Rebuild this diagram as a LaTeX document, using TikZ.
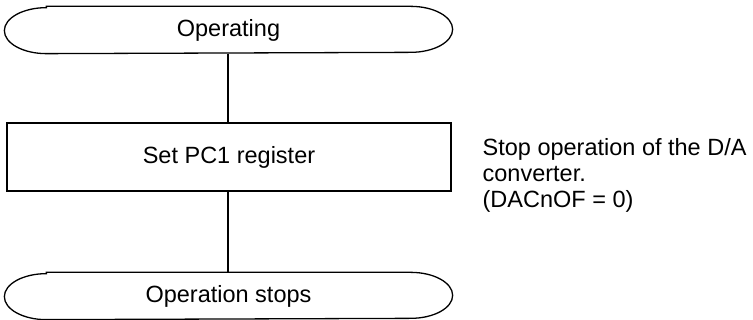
\documentclass[tikz,border=0pt]{standalone}
\usepackage{fontspec}
\setmainfont{Liberation Sans}
\usetikzlibrary{calc}
\begin{document}
\begin{tikzpicture}[x=1pt,y=1pt,
  line width=1.3pt,
  txt/.style={font=\fontsize{23.5}{26}\selectfont, inner sep=0pt},
  termnode/.style={txt, minimum width=447pt, minimum height=46pt},
  procbox/.style={txt, draw, minimum width=444pt, minimum height=68pt},
  flow/.style={line width=1.1pt}]
\useasboundingbox (0,0) rectangle (753,320);
\node[termnode] (op) at (228.5,290) {Operating};
\node[procbox] (pc1) at (229,163) {Set PC1 register};
\node[termnode] (stop) at (228.5,24) {Operation stops};
\foreach \n in {op,stop}{
  \draw ($(\n.north west)+(42,0)$) -- ($(\n.north east)+(-42,0)$)
    arc[start angle=90,end angle=-90,x radius=42pt,y radius=23pt]
    -- ($(\n.south west)+(42,0)$)
    arc[start angle=270,end angle=90,x radius=42pt,y radius=23pt] -- cycle;
}
\draw[flow] (op.south -| 228,0) -- (pc1.north -| 228,0);
\draw[flow] (pc1.south -| 228,0) -- (stop.north -| 228,0);
\node[txt, anchor=west, align=left] (note) at (482,145)
  {Stop operation of the D/A\\converter.\\(DACnOF = 0)};
\end{tikzpicture}
\end{document}
